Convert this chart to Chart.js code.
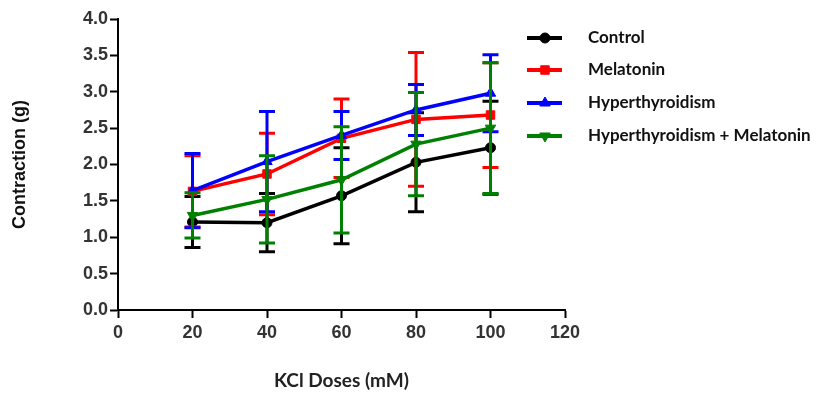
<!DOCTYPE html>
<html>
<head>
<meta charset="utf-8">
<script src="https://cdn.jsdelivr.net/npm/chart.js@4.4.0/dist/chart.umd.min.js"></script>
<style>
  html, body { margin: 0; padding: 0; background: #fff; }
</style>
</head>
<body>
<canvas id="chart" width="816" height="394"></canvas>
<script>
// KCl doses (mM) on the x axis
const doses = [20, 40, 60, 80, 100]
const xTicks = [0, 20, 40, 60, 80, 100, 120]
const yTicks = [0, 0.5, 1, 1.5, 2, 2.5, 3, 3.5, 4]

// mean contraction (g) and error (+/-) per group
const controlMean = [1.21, 1.20, 1.57, 2.03, 2.23]
const controlErr = [0.35, 0.40, 0.66, 0.68, 0.64]
const melatoninMean = [1.63, 1.87, 2.36, 2.62, 2.68]
const melatoninErr = [0.49, 0.56, 0.54, 0.92, 0.72]
const hyperMean = [1.64, 2.04, 2.40, 2.75, 2.98]
const hyperErr = [0.51, 0.69, 0.33, 0.35, 0.53]
const hyperMelMean = [1.30, 1.52, 1.79, 2.28, 2.50]
const hyperMelErr = [0.31, 0.60, 0.73, 0.71, 0.90]

const names = ["Control", "Melatonin", "Hyperthyroidism", "Hyperthyroidism + Melatonin"]
const colours = ["#000000", "#ff0000", "#0000ff", "#008000"]
const markers = [
  { pointStyle: "circle", radius: 5, rotation: 0 },
  { pointStyle: "rect", radius: 6, rotation: 0 },
  { pointStyle: "triangle", radius: 6, rotation: 0 },
  { pointStyle: "triangle", radius: 6, rotation: 180 }
]

const toPoints = values => values.map((y, i) => ({ x: doses[i], y: y }))

const means = [controlMean, melatoninMean, hyperMean, hyperMelMean]
const errors = [controlErr, melatoninErr, hyperErr, hyperMelErr]

const datasets = names.map((name, i) => ({
  label: name,
  data: toPoints(means[i]),
  errors: errors[i],
  borderColor: colours[i],
  backgroundColor: colours[i],
  borderWidth: 3.5,
  pointStyle: markers[i].pointStyle,
  pointRadius: markers[i].radius,
  pointRotation: markers[i].rotation,
  pointBorderWidth: 1,
  tension: 0,
  order: names.length - 1 - i //last group drawn on top
}))

// error bars drawn just before each dataset's own line
const errorBarPlugin = {
  id: "errorBars",
  beforeDatasetDraw(chart, args) {
    const ds = chart.data.datasets[args.index]
    const yScale = chart.scales.y
    const ctx = chart.ctx
    ctx.save()
    ctx.strokeStyle = ds.borderColor
    ctx.lineWidth = 3
    args.meta.data.forEach((pt, i) => {
      const yTop = yScale.getPixelForValue(ds.data[i].y + ds.errors[i])
      const yBot = yScale.getPixelForValue(ds.data[i].y - ds.errors[i])
      ctx.beginPath()
      ctx.moveTo(pt.x, yTop); ctx.lineTo(pt.x, yBot)
      ctx.moveTo(pt.x - 8, yTop); ctx.lineTo(pt.x + 8, yTop)
      ctx.moveTo(pt.x - 8, yBot); ctx.lineTo(pt.x + 8, yBot)
      ctx.stroke()
    })
    ctx.restore()
  }
}

// legend sits over the top right corner, like the original figure
const legendPlugin = {
  id: "sideLegend",
  afterDraw(chart) {
    const ctx = chart.ctx
    const rowY = [38, 70, 103, 136]
    ctx.save()
    ctx.font = "bold 17px Lato"
    ctx.textBaseline = "middle"
    chart.data.datasets.forEach((ds, i) => {
      ctx.strokeStyle = ctx.fillStyle = ds.borderColor
      ctx.lineWidth = 4
      ctx.beginPath()
      ctx.moveTo(527, rowY[i]); ctx.lineTo(562, rowY[i])
      ctx.stroke()
      ctx.lineWidth = 1
      Chart.helpers.drawPoint(ctx, { pointStyle: markers[i].pointStyle, radius: markers[i].radius, rotation: markers[i].rotation, borderWidth: 1 }, 545, rowY[i])
      ctx.fillStyle = "#111"
      ctx.fillText(ds.label, 588, rowY[i])
    })
    ctx.restore()
  }
}

Chart.defaults.font.family = "'Liberation Sans', Arial, sans-serif"

new Chart(document.getElementById("chart").getContext("2d"), {
  type: "line",
  data: { datasets: datasets },
  options: {
    responsive: false,
    animation: false,
    layout: { padding: { left: 0, right: 251, top: 19, bottom: 0 } },
    plugins: { legend: { display: false }, tooltip: { enabled: false } },
    scales: {
      x: {
        type: "linear",
        min: xTicks[0],
        max: xTicks[xTicks.length - 1],
        afterBuildTicks: scale => { scale.ticks = xTicks.map(v => ({ value: v })) },
        afterFit: scale => { scale.height = 84 },
        border: { display: true, color: "#000", width: 2 },
        grid: { drawOnChartArea: false, color: "#000", tickLength: 8, tickWidth: 2 },
        ticks: { color: "#333", padding: 4, font: { size: 18, weight: "bold" } },
        title: { display: true, text: "KCl Doses (mM)", color: "#222", font: { family: "Lato", size: 19, weight: "bold" }, padding: { top: 0, bottom: 2 } }
      },
      y: {
        min: yTicks[0],
        max: yTicks[yTicks.length - 1],
        afterBuildTicks: scale => { scale.ticks = yTicks.map(v => ({ value: v })) },
        afterFit: scale => { scale.width = 118 },
        border: { display: true, color: "#000", width: 2 },
        grid: { drawOnChartArea: false, color: "#000", tickLength: 8, tickWidth: 2 },
        ticks: { color: "#333", padding: 2, font: { size: 18, weight: "bold" }, callback: value => value.toFixed(1) },
        title: { display: true, text: "Contraction (g)", color: "#111", font: { size: 18, weight: "bold" }, padding: { top: 9, bottom: 0 } }
      }
    }
  },
  plugins: [errorBarPlugin, legendPlugin]
})
</script>
</body>
</html>
